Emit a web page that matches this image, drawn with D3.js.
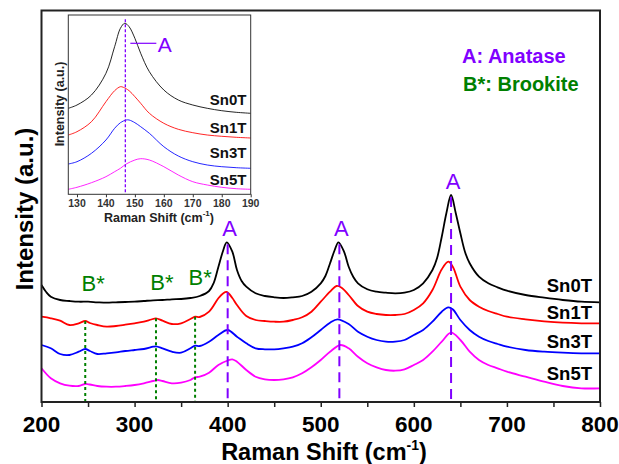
<!DOCTYPE html>
<html><head><meta charset="utf-8">
<script src="https://cdn.jsdelivr.net/npm/d3@7"></script>
<style>html,body{margin:0;padding:0;background:#fff}svg{display:block}text{font-family:Arial,"Liberation Sans",sans-serif}</style>
</head><body><svg id="c" width="619" height="464"></svg>
<script>
// ---------- DATA ----------
const sampleNames = ["Sn0T","Sn1T","Sn3T","Sn5T"];
const seriesColors = ["#000000","#ff0000","#0000ff","#ff00ff"];
const xTicksMain = [200,300,400,500,600,700,800];
const xTicksInset = [130,140,150,160,170,180,190];
const anataseShifts = [400,520,640];
const brookiteShifts = [247,323,365];
const insetAnatase = 146.7;

const sn0T = [[200,117],[205,110],[210,105.3],[220,102],[230,101],[240,100.3],[250,100.3],[260,99.7],[270,99.3],[280,99.7],[290,100],[300,100.3],[310,101],[320,101.7],[330,102],[340,102.7],[350,103],[360,104],[370,106],[380,111],[385,119],[390,135],[395,151],[399,159.7],[405,150.3],[410,132],[415,121],[420,115.3],[430,108.7],[440,106],[450,104.7],[460,104],[470,104.7],[480,106],[490,110.3],[500,118.7],[505,126],[510,138.7],[515,152],[519,159.7],[525,150.3],[530,135.3],[535,125],[540,118.7],[550,112.7],[560,110.3],[570,109.3],[580,108.7],[590,109.3],[600,112],[610,118.7],[620,132],[625,144],[630,165.3],[635,189],[640,207],[645,189],[650,168.7],[655,150],[660,138.7],[670,125.3],[680,118.7],[690,114.7],[700,111.3],[720,107],[740,104.3],[760,102],[780,100.3],[800,99.7]];
const sn1T = [[200,85.3],[210,83.7],[220,81.3],[230,77],[240,78.7],[247,81],[252,79],[260,77],[270,75.3],[280,76],[290,77.3],[300,78.7],[310,80.3],[318,82.5],[323,83.7],[330,81.3],[340,78],[350,78.7],[360,83],[365,85.3],[370,85],[380,90.3],[390,103.7],[395,108.5],[399,110],[405,104],[410,97],[420,86],[430,82],[440,81],[450,80.3],[460,80.3],[470,82],[480,84.7],[490,90.3],[500,100.3],[510,110.3],[517,116],[522,114.5],[530,107],[540,96],[550,90.3],[560,88],[570,87],[580,87],[590,88],[600,92],[610,98.7],[620,112],[630,132.7],[637,140.3],[642,135],[650,115.3],[660,102],[670,95.3],[680,91],[690,88],[700,85.3],[720,82.7],[740,80.7],[760,79.3],[780,78.7],[800,78.7]];
const sn3T = [[200,57],[210,53.7],[220,48],[230,47],[240,50.3],[247,53],[252,51],[260,48],[270,48.7],[280,49.7],[290,51],[300,52],[310,53],[320,55.3],[323,55.7],[330,53.7],[340,50.3],[350,49.3],[360,53.7],[365,56.3],[370,56],[380,60.3],[390,67],[400,72],[410,65.3],[420,58.7],[430,53.7],[440,52.7],[450,52.7],[460,53.7],[470,55.3],[480,58.7],[490,64.7],[500,72],[510,79.3],[518,82.7],[530,78],[540,70.3],[550,65.3],[560,62],[570,60.3],[580,60.3],[590,62],[600,67],[610,72],[620,80.3],[630,90.3],[637,94.7],[642,92.5],[650,82],[660,72],[670,65.3],[680,61],[690,58],[700,55.3],[720,52],[740,50.3],[760,49.3],[780,48.7],[800,48.7]];
const sn5T = [[200,33.7],[210,23.7],[220,18.7],[230,16.3],[240,16],[247,18],[252,17.5],[260,16],[270,15.3],[280,15.3],[290,16],[300,17],[310,18.7],[320,21],[325,22],[330,21],[340,18.7],[350,19.3],[360,22],[365,24.7],[370,25.3],[380,29.3],[390,37],[400,41.5],[405,42.7],[410,40.3],[420,32],[430,25.3],[440,22.7],[450,22],[460,22.7],[470,24.7],[480,28.7],[490,34.7],[500,42],[510,50.3],[521,57],[530,53.7],[540,45.3],[550,38.7],[560,34.7],[570,32],[580,31.3],[590,32.7],[600,37],[610,42],[620,50.3],[630,60.3],[640,69.3],[650,62],[660,50.3],[670,42],[680,37],[690,33.7],[700,30.3],[720,25.3],[740,20.3],[760,16],[780,13.7],[800,13.7]];

const inSn0T = [[127,86],[130,89.3],[135,99.3],[140,121],[143,147.6],[145,166],[146.5,171],[148,167.6],[150,156],[152,141],[155,122.6],[160,104.3],[165,94.3],[170,89.3],[175,86],[180,83.6],[185,82],[190,81]];
const inSn1T = [[127,59.3],[130,62.6],[135,72.6],[140,92.6],[143,103.6],[145,107.6],[146,107],[148,103.6],[150,97.6],[152,91],[155,81],[160,71],[165,65],[170,61.6],[175,59.3],[180,58],[185,57],[190,56.3]];
const inSn3T = [[127,30.3],[130,32.6],[135,41],[140,54.3],[143,66],[145,71.6],[147,74.3],[148,74.3],[150,71.6],[152,67.6],[155,61],[160,47.6],[165,38.3],[170,32.6],[175,29.3],[180,27.6],[185,26.6],[190,26]];
const inSn5T = [[127,5],[130,7],[135,11.6],[140,17.6],[143,22.6],[145,26],[147,30.3],[150,34.3],[152,35.6],[155,34.3],[160,27.6],[165,19.3],[170,12.6],[175,9.3],[180,7],[185,5.6],[190,5]];

const mainSeries = [sn0T, sn1T, sn3T, sn5T];
const insetSeries = [inSn0T, inSn1T, inSn3T, inSn5T];

// ---------- DRAW ----------
const svg = d3.select("#c");
const VIOLET = "#8000ff", GREEN = "#008000";
const x = d3.scaleLinear().domain([200,800]).range([41.5,600]);
const y = d3.scaleLinear().domain([0,392]).range([402,10]);
const interp = (arr, s) => { // value of series at shift by linear interpolation on given points
  for (let i=1;i<arr.length;i++){ if (arr[i][0]>=s){const a=arr[i-1],b=arr[i];return a[1]+(b[1]-a[1])*(s-a[0])/(b[0]-a[0]);} }
  return arr[arr.length-1][1];
};

// main curves
const line = d3.line().x(d=>x(d[0])).y(d=>y(d[1])).curve(d3.curveCatmullRom.alpha(0.5));
mainSeries.forEach((s,i)=>{
  svg.append("path").attr("d",line(s)).attr("fill","none").attr("stroke",seriesColors[i])
    .attr("stroke-width",1.8).attr("stroke-linejoin","round");
});

// anatase dashed lines + labels
anataseShifts.forEach(s=>{
  const pk = d3.max(sn0T.filter(d=>Math.abs(d[0]-s)<8), d=>d[1]);
  svg.append("line").attr("x1",x(s)).attr("x2",x(s)).attr("y1",y(pk)+2).attr("y2",y(0))
    .attr("stroke",VIOLET).attr("stroke-width",2).attr("stroke-dasharray","10,6");
  svg.append("text").attr("x",x(s)+2).attr("y",y(pk)-6).attr("text-anchor","middle")
    .attr("font-size",22).attr("fill",VIOLET).text("A");
});
// brookite dashed lines + labels
brookiteShifts.forEach((s,i)=>{
  svg.append("line").attr("x1",x(s)).attr("x2",x(s)).attr("y1",y(interp(sn1T,s))).attr("y2",y(0))
    .attr("stroke",GREEN).attr("stroke-width",2).attr("stroke-dasharray","3,3");
  const by = i===2 ? y(interp(sn0T,s))-12.5 : y(interp(sn0T,s))-10.5;
  svg.append("text").attr("x",x(s)+[8,6,5][i]).attr("y",by).attr("text-anchor","middle")
    .attr("font-size",22).attr("fill",GREEN).text("B*");
});

// curve labels
const mainLabelY = [291.7,319.3,348.3,380];
sampleNames.forEach((n,i)=>{
  svg.append("text").attr("x",592).attr("y",mainLabelY[i]).attr("text-anchor","end")
    .attr("font-size",18.5).attr("font-weight","bold").attr("fill","#000").text(n);
});

// legend
svg.append("text").attr("x",462).attr("y",62.5).attr("font-size",20).attr("font-weight","bold").attr("fill",VIOLET).text("A: Anatase");
svg.append("text").attr("x",463).attr("y",91).attr("font-size",20).attr("font-weight","bold").attr("fill",GREEN).text("B*: Brookite");

// main frame & axis
svg.append("rect").attr("x",41.5).attr("y",10.5).attr("width",558.5).attr("height",391.5)
  .attr("fill","none").attr("stroke","#222").attr("stroke-width",2);
const xAxis = d3.axisBottom(x).tickValues(d3.range(200,801,50)).tickSize(5).tickFormat("");
const gx = svg.append("g").attr("transform","translate(0,402)").call(xAxis);
gx.select(".domain").remove();
gx.selectAll("line").attr("stroke","#222").attr("stroke-width",1.5);
xTicksMain.forEach(t=>{
  svg.append("text").attr("x",x(t)).attr("y",432).attr("text-anchor","middle")
    .attr("font-size",22.5).attr("font-weight","bold").attr("fill","#000").text(t);
});
const xl = svg.append("text").attr("x",324).attr("y",460).attr("text-anchor","middle")
  .attr("font-size",23.5).attr("font-weight","bold").attr("fill","#000");
xl.append("tspan").text("Raman Shift (cm");
xl.append("tspan").attr("font-size",14).attr("dy",-10).text("-1");
xl.append("tspan").attr("dy",10).text(")");
svg.append("text").attr("transform","translate(32.5,209) rotate(-90)").attr("text-anchor","middle")
  .attr("font-size",24).attr("font-weight","bold").attr("fill","#000").text("Intensity (a.u.)");

// ---------- INSET ----------
const xi = d3.scaleLinear().domain([127,190]).range([68.3,250.7]);
const yi = d3.scaleLinear().domain([0,179.3]).range([194.3,15]);
const g = svg.append("g");
g.append("rect").attr("x",68.3).attr("y",15).attr("width",182.4).attr("height",179.3).attr("fill","#fff");
const iline = d3.line().x(d=>xi(d[0])).y(d=>yi(d[1])).curve(d3.curveCatmullRom.alpha(0.5));
insetSeries.forEach((s,i)=>{
  g.append("path").attr("d",iline(s)).attr("fill","none").attr("stroke",seriesColors[i])
    .attr("stroke-width",1).attr("opacity",0.85);
});
g.append("line").attr("x1",xi(insetAnatase)).attr("x2",xi(insetAnatase)).attr("y1",yi(175)).attr("y2",yi(0))
  .attr("stroke",VIOLET).attr("stroke-width",1.3).attr("stroke-dasharray","3,2");
g.append("line").attr("x1",xi(insetAnatase)+5).attr("x2",xi(insetAnatase)+31).attr("y1",43.3).attr("y2",43.3)
  .attr("stroke",VIOLET).attr("stroke-width",1.2);
g.append("text").attr("x",xi(insetAnatase)+32.5).attr("y",51.5).attr("font-size",21).attr("fill",VIOLET).text("A");
const insetLabelY = [105,133.3,158.3,185];
sampleNames.forEach((n,i)=>{
  g.append("text").attr("x",246.5).attr("y",insetLabelY[i]).attr("text-anchor","end")
    .attr("font-size",15).attr("font-weight","bold").attr("fill","#111").text(n);
});
g.append("rect").attr("x",68.3).attr("y",15).attr("width",182.4).attr("height",179.3)
  .attr("fill","none").attr("stroke","#333").attr("stroke-width",1);
const gxi = g.append("g").attr("transform","translate(0,194.3)")
  .call(d3.axisBottom(xi).tickValues(xTicksInset).tickSize(3).tickFormat(""));
gxi.select(".domain").remove();
gxi.selectAll("line").attr("stroke","#333");
xTicksInset.forEach(t=>{
  g.append("text").attr("x",xi(t)).attr("y",207).attr("text-anchor","middle")
    .attr("font-size",10.5).attr("font-weight","bold").attr("fill","#333").text(t);
});
const xli = g.append("text").attr("x",159).attr("y",221.5).attr("text-anchor","middle")
  .attr("font-size",12.5).attr("font-weight","bold").attr("fill","#222");
xli.append("tspan").text("Raman Shift (cm");
xli.append("tspan").attr("font-size",8).attr("dy",-6).text("-1");
xli.append("tspan").attr("dy",6).text(")");
g.append("text").attr("transform","translate(64,104) rotate(-90)").attr("text-anchor","middle")
  .attr("font-size",12.5).attr("font-weight","bold").attr("fill","#222").text("Intensity (a.u.)");
</script></body></html>
